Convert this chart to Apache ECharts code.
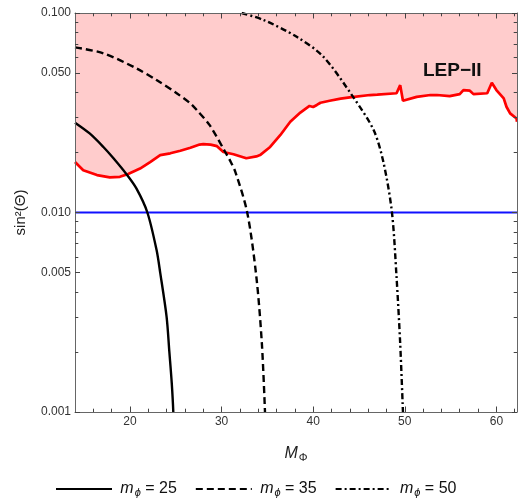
<!DOCTYPE html>
<html><head><meta charset="utf-8">
<script src="https://cdn.jsdelivr.net/npm/echarts@6/dist/echarts.min.js"></script>
<style>html,body{margin:0;padding:0;background:#fff}#c{width:518px;height:498px}</style>
</head><body><div id="c"></div>
<script>
// ---- data ----
const lepBound = [[14.0,0.0179],[14.9,0.0163],[16.4,0.0154],[17.8,0.0150],[18.9,0.0151],[19.8,0.0156],[21.1,0.0166],[22.2,0.0179],[23.3,0.0194],[24.4,0.0198],[25.5,0.0204],[26.6,0.0211],[27.6,0.0219],[28.0,0.0220],[28.8,0.0219],[29.5,0.0215],[30.2,0.0201],[31.3,0.0196],[32.7,0.0187],[33.8,0.0191],[34.2,0.0194],[35.3,0.0213],[36.4,0.0244],[37.5,0.0285],[38.6,0.0317],[39.6,0.0342],[40.0,0.0338],[40.4,0.0346],[40.8,0.0355],[41.8,0.0363],[43.0,0.0372],[44.0,0.0378],[46.2,0.0388],[47.0,0.0390],[49.1,0.0396],[49.5,0.0435],[49.8,0.0363],[51.3,0.0380],[52.8,0.0388],[53.5,0.0388],[54.9,0.0383],[56.0,0.0392],[56.4,0.0411],[57.1,0.0408],[57.5,0.0392],[59.0,0.0396],[59.5,0.0447],[60.0,0.0411],[60.8,0.0373],[61.1,0.0339],[61.5,0.0314],[62.2,0.0296],[62.25,0.0285]];
const curve25 = [[14.0,0.0282],[15.6,0.0249],[17.1,0.0213],[18.2,0.0187],[19.6,0.0156],[20.7,0.0132],[21.9,0.0100],[22.9,0.0065],[23.3,0.0050],[24.0,0.0030],[24.3,0.0020],[24.56,0.0014],[24.73,0.0010]];
const curve35 = [[14.0,0.0673],[17.1,0.0628],[20.7,0.0528],[22.9,0.0461],[25.1,0.0396],[26.6,0.0352],[27.3,0.0326],[28.7,0.0274],[30.4,0.0201],[30.9,0.0183],[31.5,0.0160],[32.8,0.0100],[33.8,0.00475],[34.4,0.0022],[34.74,0.0010]];
const curve50 = [[32.2,0.100],[34.6,0.0922],[38.2,0.0760],[41.1,0.0604],[44.3,0.0383],[46.6,0.0259],[47.7,0.0176],[48.6,0.0100],[49.1,0.00475],[49.5,0.0022],[49.8,0.0010]];
const blueLevel = 0.01;
const xRange = [14, 62.25];
const yRange = [0.001, 0.1];
const xMajorTicks = [20,30,40,50,60];
const xMinorTicks = [16,18,22,24,26,28,32,34,36,38,42,44,46,48,52,54,56,58,62];
const yMajorTicks = [0.001,0.005,0.01,0.05,0.1];
const yMinorTicks = [0.002,0.003,0.004,0.006,0.007,0.008,0.009,0.02,0.03,0.04,0.06,0.07,0.08,0.09];
const massLabels = ['25','35','50'];
const regionLabel = 'LEP\u2212II';

// ---- styling ----
const FONT = 'Liberation Sans, Arial, sans-serif';
const frameColor = '#666';
const tickColor = '#444';
const labelColor = '#333';

function xAx(pos, ticks, len, showLabel, showLine) {
  return {type:'value', position:pos, min:xRange[0], max:xRange[1], z:10,
    axisLine:{show:showLine, onZero:false, lineStyle:{color:frameColor, width:1}},
    axisTick:{show:true, inside:true, length:len, customValues:ticks, lineStyle:{color:tickColor, width:1}},
    axisLabel:{show:showLabel, customValues:xMajorTicks, color:labelColor, fontSize:12, fontFamily:FONT, margin:4},
    splitLine:{show:false}};
}
function yAx(pos, ticks, len, showLabel, showLine) {
  return {type:'log', logBase:10, position:pos, min:yRange[0], max:yRange[1], z:10,
    axisLine:{show:showLine, onZero:false, lineStyle:{color:frameColor, width:1}},
    axisTick:{show:true, inside:true, length:len, customValues:ticks, lineStyle:{color:tickColor, width:1}},
    axisLabel:{show:showLabel, customValues:yMajorTicks, color:labelColor, fontSize:12, fontFamily:FONT, margin:4,
      formatter: v => Number(v).toFixed(3)},
    splitLine:{show:false}};
}

const xAxes = [xAx('bottom', xMajorTicks, 5.5, true, true), xAx('bottom', xMinorTicks, 3.3, false, false),
               xAx('top', xMajorTicks, 5.5, false, true), xAx('top', xMinorTicks, 3.3, false, false)];
xAxes[0].name = '{m|M}{s|\u03A6}';
xAxes[0].nameLocation = 'middle';
xAxes[0].nameGap = 32;
xAxes[0].nameTextStyle = {fontFamily:FONT, color:'#222', rich:{m:{fontStyle:'italic', fontSize:16, fontFamily:FONT, color:'#222'}, s:{fontSize:11, fontFamily:FONT, color:'#222', padding:[8,0,0,1]}}};
const yAxes = [yAx('left', yMajorTicks, 5, true, true), yAx('left', yMinorTicks, 3.3, false, false),
               yAx('right', yMajorTicks, 5, false, true), yAx('right', yMinorTicks, 3.3, false, false)];
yAxes[0].name = 'sin\u00B2(\u0398)';
yAxes[0].nameLocation = 'middle';
yAxes[0].nameGap = 47;
yAxes[0].nameTextStyle = {fontFamily:FONT, fontSize:15, color:'#222'};

const names = massLabels.map(m => 'm' + m);
const dashes = ['solid', [7,4], [6,3,2,3]];
const curves = [curve25, curve35, curve50];

const series = [
  {type:'line', name:'LEP', data:lepBound, showSymbol:false, symbol:'none', z:2,
   lineStyle:{color:'#ff0000', width:2.7}, areaStyle:{origin:'end', color:'#ffcccc', opacity:1}},
  {type:'line', name:'blue', data:[[xRange[0], blueLevel],[xRange[1], blueLevel]], showSymbol:false, symbol:'none', z:3,
   lineStyle:{color:'#1010ff', width:1.8}}
];
curves.forEach((c,i) => series.push({type:'line', name:names[i], data:c, showSymbol:false, symbol:'none', z:4,
  smooth:0.3, lineStyle:{color:'#000', width:2.4, type:dashes[i]}, itemStyle:{color:'#000'}}));

const chart = echarts.init(document.getElementById('c'), null, {renderer:'canvas'});
chart.setOption({
  animation:false,
  grid:{left:75, top:13, right:1, bottom:86, containLabel:false},
  xAxis:xAxes, yAxis:yAxes,
  legend:{data:names, left:50, top:476, itemWidth:56, itemHeight:14, itemGap:18,
    itemStyle:{opacity:0, color:'transparent', borderWidth:0},
    formatter: n => ' {m|m}{s|\u03D5}{t| = ' + n.slice(1) + '}',
    textStyle:{fontFamily:FONT, color:'#111', rich:{
      m:{fontStyle:'italic', fontSize:16, fontFamily:FONT, color:'#111'},
      s:{fontStyle:'italic', fontSize:11, fontFamily:FONT, color:'#111', padding:[8,0,0,1]},
      t:{fontSize:16, fontFamily:FONT, color:'#111'}}}},
  graphic:[{type:'text', z:100, left:423, top:61, style:{text:regionLabel, font:'bold 19px ' + FONT, fill:'#111'}}],
  series:series
});
</script></body></html>
